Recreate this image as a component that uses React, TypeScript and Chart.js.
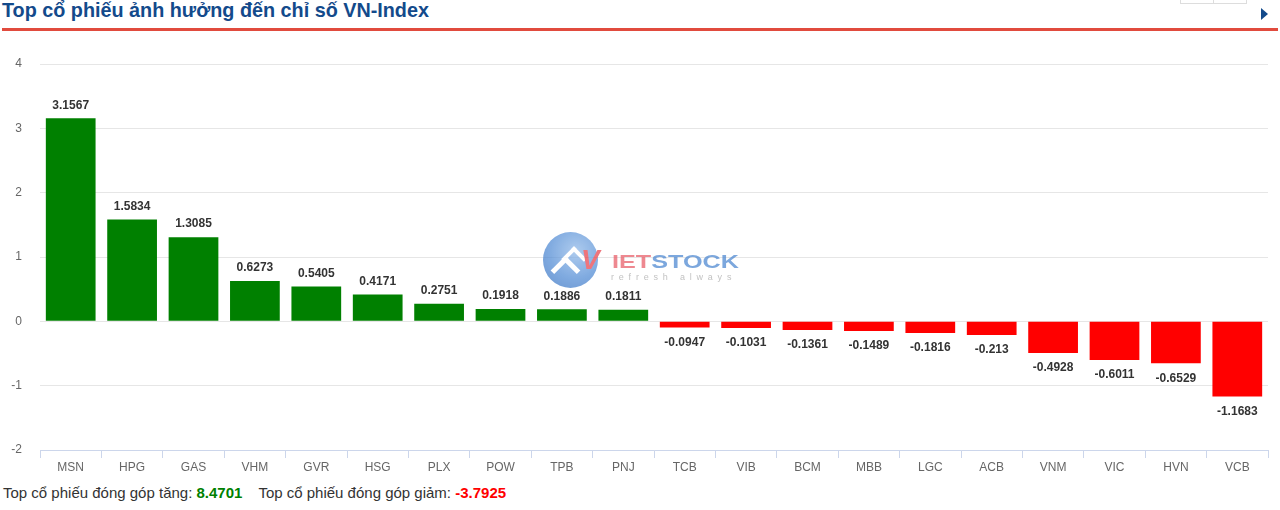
import React, { useEffect, useRef } from "react";
import { Chart, registerables } from "chart.js";

Chart.register(...registerables);

const categories = ["MSN", "HPG", "GAS", "VHM", "GVR", "HSG", "PLX", "POW", "TPB", "PNJ", "TCB", "VIB", "BCM", "MBB", "LGC", "ACB", "VNM", "VIC", "HVN", "VCB"];
const values = [3.1567, 1.5834, 1.3085, 0.6273, 0.5405, 0.4171, 0.2751, 0.1918, 0.1886, 0.1811, -0.0947, -0.1031, -0.1361, -0.1489, -0.1816, -0.213, -0.4928, -0.6011, -0.6529, -1.1683];
const yMin = -2;
const yMax = 4;
const yStep = 1;
const titleText = "Top cổ phiếu ảnh hưởng đến chỉ số VN-Index";
const upLabel = "Top cổ phiếu đóng góp tăng: ";
const downLabel = "Top cổ phiếu đóng góp giảm: ";

const GREEN = "#008000";
const RED = "#ff0000";

const upSum = values.filter((v) => v > 0).reduce((a, b) => a + b, 0);
const downSum = values.filter((v) => v < 0).reduce((a, b) => a + b, 0);

const labelPlugin = {
  id: "barValueLabels",
  afterDatasetsDraw(chart: any) {
    const ctx = chart.ctx;
    const meta = chart.getDatasetMeta(0);
    ctx.save();
    ctx.font = "bold 12px 'Liberation Sans', Arial, sans-serif";
    ctx.textAlign = "center";
    ctx.textBaseline = "middle";
    ctx.lineJoin = "round";
    meta.data.forEach((el: any, i: number) => {
      const v = values[i];
      const y = v >= 0 ? el.y - 13 : el.y + 15;
      const txt = String(v);
      ctx.strokeStyle = "#ffffff";
      ctx.lineWidth = 2;
      ctx.strokeText(txt, el.x, y);
      ctx.fillStyle = "#333333";
      ctx.fillText(txt, el.x, y);
    });
    ctx.restore();
  },
};

export default function App() {
  const canvasRef = useRef<HTMLCanvasElement | null>(null);

  useEffect(() => {
    if (!canvasRef.current) return;
    const chart = new Chart(canvasRef.current, {
      type: "bar",
      data: {
        labels: categories,
        datasets: [
          {
            data: values,
            backgroundColor: values.map((v) => (v >= 0 ? GREEN : RED)),
            borderWidth: 0,
            categoryPercentage: 0.9,
            barPercentage: 0.9,
          },
        ],
      },
      options: {
        animation: false,
        responsive: false,
        devicePixelRatio: 1,
        layout: { padding: { top: 34, right: 12, left: 0, bottom: 0 } },
        plugins: {
          legend: { display: false },
          tooltip: { enabled: false },
        },
        scales: {
          x: {
            offset: true,
            grid: {
              offset: true,
              drawOnChartArea: false,
              drawTicks: true,
              tickLength: 8,
              color: "#ccd6eb",
            },
            border: { display: true, color: "#ccd6eb", width: 1 },
            ticks: {
              color: "#666666",
              font: { family: "'Liberation Sans', Arial, sans-serif", size: 12 },
              padding: 2,
              maxRotation: 0,
              autoSkip: false,
            },
            afterFit(scale: any) {
              scale.height = 30;
            },
          },
          y: {
            min: yMin,
            max: yMax,
            grid: {
              color: "#e6e6e6",
              drawTicks: false,
            },
            border: { display: false },
            ticks: {
              stepSize: yStep,
              color: "#666666",
              font: { family: "'Liberation Sans', Arial, sans-serif", size: 12 },
              padding: 18,
            },
            afterFit(scale: any) {
              scale.width = 40;
            },
          },
        },
      },
      plugins: [labelPlugin],
    });
    return () => chart.destroy();
  }, []);

  const font = "'Liberation Sans', Arial, sans-serif";

  return (
    <div
      style={{
        position: "fixed",
        left: 0,
        top: 0,
        width: 1280,
        height: 510,
        background: "#fff",
        overflow: "hidden",
        fontFamily: font,
      }}
    >
      <div
        style={{
          position: "absolute",
          left: 2,
          top: -1,
          fontSize: 19.8,
          lineHeight: "23px",
          fontWeight: "bold",
          color: "#134a8b",
          whiteSpace: "nowrap",
        }}
      >
        {titleText}
      </div>
      <div
        style={{
          position: "absolute",
          left: 1180,
          top: -20,
          width: 32,
          height: 22,
          border: "1px solid #dddddd",
        }}
      />
      <div
        style={{
          position: "absolute",
          left: 1213,
          top: -20,
          width: 32,
          height: 22,
          border: "1px solid #dddddd",
        }}
      />
      <div
        style={{
          position: "absolute",
          left: 1261,
          top: 8,
          width: 0,
          height: 0,
          borderTop: "6px solid transparent",
          borderBottom: "6px solid transparent",
          borderLeft: "7px solid #134a8b",
        }}
      />
      <div
        style={{
          position: "absolute",
          left: 2,
          top: 28,
          width: 1276,
          height: 3,
          background: "#e14b3e",
        }}
      />
      <canvas
        ref={canvasRef}
        width={1280}
        height={450}
        style={{ position: "absolute", left: 0, top: 30, width: 1280, height: 450 }}
      />
      <div style={{ position: "absolute", left: 543, top: 232, width: 210, height: 60, pointerEvents: "none", opacity: 0.72 }}>
        <div
          style={{
            position: "absolute",
            left: 0,
            top: 0,
            width: 55,
            height: 56,
            borderRadius: "50%",
            background: "radial-gradient(circle at 60% 35%, #8fb8e8 0%, #4f8ad4 55%, #2f6bbd 100%)",
          }}
        />
        <div
          style={{
            position: "absolute",
            left: 12,
            top: 28,
            width: 16,
            height: 16,
            borderLeft: "5px solid #ffffff",
            borderTop: "5px solid #ffffff",
            transform: "rotate(45deg)",
          }}
        />
        <div
          style={{
            position: "absolute",
            left: 22,
            top: 18,
            width: 14,
            height: 14,
            borderLeft: "4px solid #ffffff",
            borderTop: "4px solid #ffffff",
            transform: "rotate(45deg)",
          }}
        />
        <div
          style={{
            position: "absolute",
            left: 38,
            top: 12,
            fontSize: 28,
            fontWeight: "bold",
            fontStyle: "italic",
            color: "#e8414a",
            lineHeight: "32px",
          }}
        >
          V
        </div>
        <div
          style={{
            position: "absolute",
            left: 69,
            top: 20,
            fontSize: 18,
            fontWeight: "bold",
            letterSpacing: 0,
            lineHeight: "20px",
            whiteSpace: "nowrap",
            transform: "scaleX(1.4)",
            transformOrigin: "left",
          }}
        >
          <span style={{ color: "#e85a66" }}>IET</span>
          <span style={{ color: "#4a86d0" }}>STOCK</span>
        </div>
        <div
          style={{
            position: "absolute",
            left: 68,
            top: 40,
            fontSize: 9,
            color: "#aaaaaa",
            letterSpacing: 4.8,
            lineHeight: "10px",
            whiteSpace: "nowrap",
          }}
        >
          refresh always
        </div>
      </div>
      <div
        style={{
          position: "absolute",
          left: 3,
          top: 484,
          fontSize: 15,
          lineHeight: "17px",
          color: "#333333",
          whiteSpace: "nowrap",
        }}
      >
        {upLabel}
        <b style={{ color: GREEN }}>{upSum.toFixed(4)}</b>
        <span style={{ marginLeft: 16 }}>{downLabel}</span>
        <b style={{ color: RED }}>{downSum.toFixed(4)}</b>
      </div>
    </div>
  );
}
